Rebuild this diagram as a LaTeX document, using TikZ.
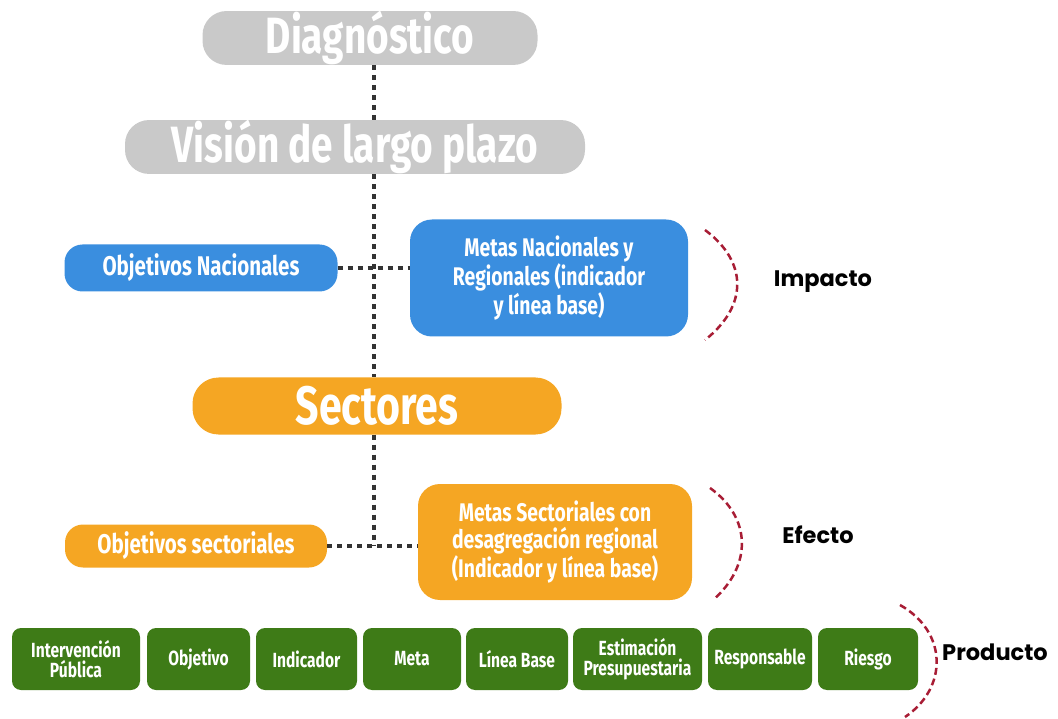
\documentclass[tikz,border=0pt]{standalone}
\usepackage{fontspec}
\usepackage{tikz}
\newfontfamily\condfont[FakeStretch=0.76]{Fira Sans}
\newfontfamily\labfont{Poppins}
\definecolor{grisbox}{HTML}{C9C9C9}
\definecolor{azulbox}{HTML}{3A8EDF}
\definecolor{narbox}{HTML}{F5A623}
\definecolor{verdebox}{HTML}{3E7B17}
\definecolor{puntos}{HTML}{333333}
\definecolor{rojoarc}{HTML}{A81D35}

\begin{document}
\begin{tikzpicture}[x=1pt,y=-1pt,
  caja/.style={rectangle,text=white,align=center,inner sep=0pt,font=\condfont\bfseries},
  pill/.style={caja,rounded corners=24pt},
  meta/.style={caja,rounded corners=22pt,minimum height=117pt,font=\condfont\bfseries\fontsize{25.5}{27}\selectfont},
  prod/.style={caja,fill=verdebox,rounded corners=9pt,minimum height=62pt,font=\condfont\bfseries\fontsize{20.5}{20}\selectfont},
  enlace/.style={draw=puntos,line width=4.5pt,dash pattern=on 5pt off 5pt},
  arco/.style={draw=rojoarc,line width=2.5pt,dash pattern=on 7pt off 4pt},
  nivel/.style={font=\labfont\bfseries\fontsize{22.5}{22}\selectfont,text=black}]
\useasboundingbox (0,0) rectangle (1058,719);

% parte superior
\node[pill,fill=grisbox,minimum width=335pt,minimum height=50pt,font=\condfont\bfseries\fontsize{51}{51}\selectfont] (diag) at (370,38) {Diagnóstico};
\node[pill,fill=grisbox,minimum width=460pt,minimum height=50pt,font=\condfont\bfseries\fontsize{51}{51}\selectfont] (vision) at (355,147) {Visión de largo plazo};

% nivel nacional
\node[pill,fill=azulbox,minimum width=273pt,minimum height=47pt,rounded corners=18pt,font=\condfont\bfseries\fontsize{27}{27}\selectfont] (objnac) at (201,268) {Objetivos Nacionales};
\node[meta,fill=azulbox,minimum width=278pt] (metasnac) at (549,278) {Metas Nacionales y\\Regionales (indicador\\y línea base)};

% sectores
\node[pill,fill=narbox,minimum width=369pt,minimum height=57pt,rounded corners=26pt,font=\condfont\bfseries\fontsize{54}{54}\selectfont] (sect) at (377,406) {Sectores};
\node[pill,fill=narbox,minimum width=262pt,minimum height=43pt,rounded corners=18pt,font=\condfont\bfseries\fontsize{27}{27}\selectfont] (objsec) at (196,546) {Objetivos sectoriales};
\node[meta,fill=narbox,minimum width=274pt,minimum height=116pt] (metassec) at (555,542) {Metas Sectoriales con\\desagregación regional\\(Indicador y línea base)};

% productos
\foreach \x/\w/\t [count=\i] in {76/128/{Intervención\\Pública},198.5/103/Objetivo,306.5/101/Indicador,412/98/Meta,517/102/{Línea Base},637.5/129/{Estimación\\Presupuestaria},760/104/Responsable,868/100/Riesgo}
  \node[prod,minimum width=\w pt] (p\i) at (\x,659) {\t};

% enlaces punteados
\coordinate (eje) at (374,0);
\draw[enlace] (diag.south -| eje) -- (vision.north -| eje);
\draw[enlace] (vision.south -| eje) -- (sect.north -| eje);
\draw[enlace] (objnac.east) -- (objnac.east -| metasnac.west);
\draw[enlace] (sect.south -| eje) -- (objsec.east -| eje);
\draw[enlace] (objsec.east) -- (objsec.east -| metassec.west);

% niveles
\draw[arco] (705,230) .. controls (748,262) and (748,306) .. (705,340);
\node[nivel] (impacto) at (823,282) {Impacto};
\draw[arco] (710,488) .. controls (752,518) and (752,566) .. (713,600);
\node[nivel] (efecto) at (818,535) {Efecto};
\draw[arco] (900,605) .. controls (948,632) and (948,688) .. (905,717);
\node[nivel] (producto) at (995,652) {Producto};
\end{tikzpicture}
\end{document}
